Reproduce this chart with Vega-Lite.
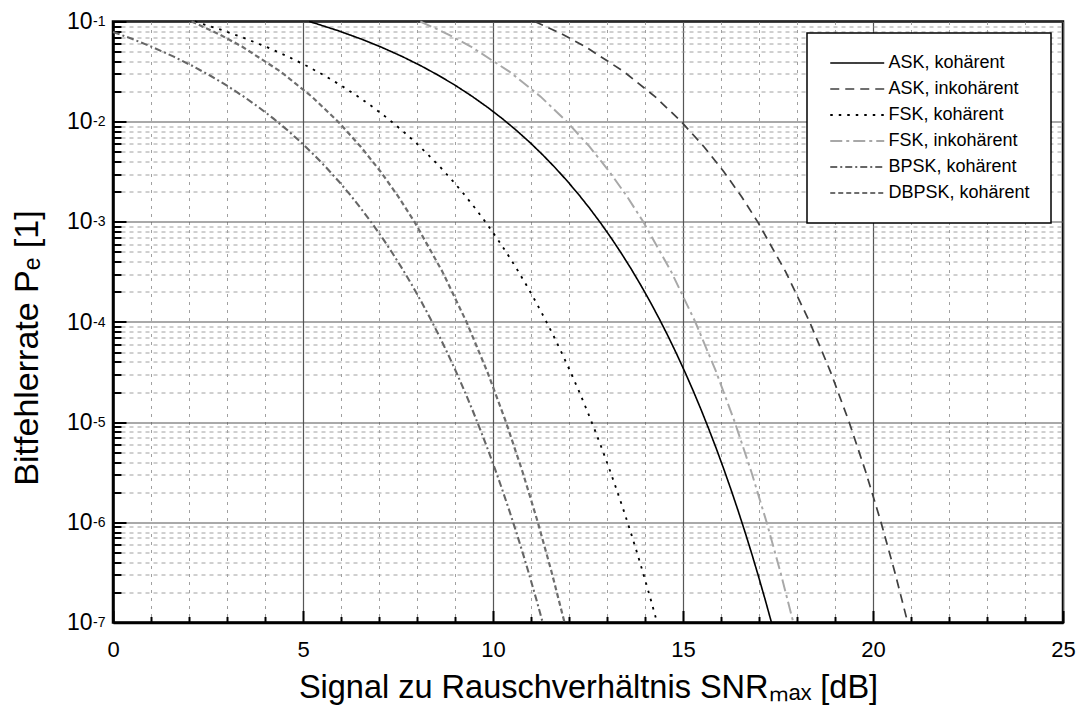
{
  "$schema": "https://vega.github.io/schema/vega-lite/v6.json",
  "width": 950,
  "height": 601,
  "autosize": {"type": "none"},
  "padding": {"left": 113, "top": 21.5, "right": 17, "bottom": 97.5},
  "background": "white",
  "config": {
    "font": "Liberation Sans",
    "view": {"stroke": "black", "strokeWidth": 2.5},
    "legend": {"strokeWidth": 1.5}
  },
  "datasets": {
    "curves": [
      {"s": "ASK, kohärent", "x": 5.165, "p": 0.1},
      {"s": "ASK, kohärent", "x": 5.289, "p": 0.0968},
      {"s": "ASK, kohärent", "x": 5.933, "p": 0.08076},
      {"s": "ASK, kohärent", "x": 6.532, "p": 0.06681},
      {"s": "ASK, kohärent", "x": 7.092, "p": 0.0548},
      {"s": "ASK, kohärent", "x": 7.619, "p": 0.04457},
      {"s": "ASK, kohärent", "x": 8.115, "p": 0.03593},
      {"s": "ASK, kohärent", "x": 8.585, "p": 0.02872},
      {"s": "ASK, kohärent", "x": 9.031, "p": 0.02275},
      {"s": "ASK, kohärent", "x": 9.454, "p": 0.01786},
      {"s": "ASK, kohärent", "x": 9.858, "p": 0.0139},
      {"s": "ASK, kohärent", "x": 10.245, "p": 0.01072},
      {"s": "ASK, kohärent", "x": 10.614, "p": 0.008198},
      {"s": "ASK, kohärent", "x": 10.969, "p": 0.00621},
      {"s": "ASK, kohärent", "x": 11.309, "p": 0.004661},
      {"s": "ASK, kohärent", "x": 11.637, "p": 0.003467},
      {"s": "ASK, kohärent", "x": 11.953, "p": 0.002555},
      {"s": "ASK, kohärent", "x": 12.258, "p": 0.001866},
      {"s": "ASK, kohärent", "x": 12.552, "p": 0.00135},
      {"s": "ASK, kohärent", "x": 12.837, "p": 0.0009676},
      {"s": "ASK, kohärent", "x": 13.113, "p": 0.0006871},
      {"s": "ASK, kohärent", "x": 13.38, "p": 0.0004834},
      {"s": "ASK, kohärent", "x": 13.64, "p": 0.0003369},
      {"s": "ASK, kohärent", "x": 13.891, "p": 0.0002326},
      {"s": "ASK, kohärent", "x": 14.136, "p": 0.0001591},
      {"s": "ASK, kohärent", "x": 14.374, "p": 0.0001078},
      {"s": "ASK, kohärent", "x": 14.606, "p": 7.235e-5},
      {"s": "ASK, kohärent", "x": 14.831, "p": 4.81e-5},
      {"s": "ASK, kohärent", "x": 15.051, "p": 3.167e-5},
      {"s": "ASK, kohärent", "x": 15.266, "p": 2.066e-5},
      {"s": "ASK, kohärent", "x": 15.475, "p": 1.335e-5},
      {"s": "ASK, kohärent", "x": 15.679, "p": 8.54e-6},
      {"s": "ASK, kohärent", "x": 15.879, "p": 5.413e-6},
      {"s": "ASK, kohärent", "x": 16.074, "p": 3.398e-6},
      {"s": "ASK, kohärent", "x": 16.265, "p": 2.112e-6},
      {"s": "ASK, kohärent", "x": 16.452, "p": 1.301e-6},
      {"s": "ASK, kohärent", "x": 16.635, "p": 7.933e-7},
      {"s": "ASK, kohärent", "x": 16.814, "p": 4.792e-7},
      {"s": "ASK, kohärent", "x": 16.989, "p": 2.867e-7},
      {"s": "ASK, kohärent", "x": 17.161, "p": 1.698e-7},
      {"s": "ASK, kohärent", "x": 17.328, "p": 1e-7},

      {"s": "FSK, kohärent", "x": 2.155, "p": 0.1},
      {"s": "FSK, kohärent", "x": 2.279, "p": 0.0968},
      {"s": "FSK, kohärent", "x": 2.923, "p": 0.08076},
      {"s": "FSK, kohärent", "x": 3.522, "p": 0.06681},
      {"s": "FSK, kohärent", "x": 4.082, "p": 0.0548},
      {"s": "FSK, kohärent", "x": 4.609, "p": 0.04457},
      {"s": "FSK, kohärent", "x": 5.105, "p": 0.03593},
      {"s": "FSK, kohärent", "x": 5.575, "p": 0.02872},
      {"s": "FSK, kohärent", "x": 6.021, "p": 0.02275},
      {"s": "FSK, kohärent", "x": 6.444, "p": 0.01786},
      {"s": "FSK, kohärent", "x": 6.848, "p": 0.0139},
      {"s": "FSK, kohärent", "x": 7.235, "p": 0.01072},
      {"s": "FSK, kohärent", "x": 7.604, "p": 0.008198},
      {"s": "FSK, kohärent", "x": 7.959, "p": 0.00621},
      {"s": "FSK, kohärent", "x": 8.299, "p": 0.004661},
      {"s": "FSK, kohärent", "x": 8.627, "p": 0.003467},
      {"s": "FSK, kohärent", "x": 8.943, "p": 0.002555},
      {"s": "FSK, kohärent", "x": 9.248, "p": 0.001866},
      {"s": "FSK, kohärent", "x": 9.542, "p": 0.00135},
      {"s": "FSK, kohärent", "x": 9.827, "p": 0.0009676},
      {"s": "FSK, kohärent", "x": 10.103, "p": 0.0006871},
      {"s": "FSK, kohärent", "x": 10.37, "p": 0.0004834},
      {"s": "FSK, kohärent", "x": 10.63, "p": 0.0003369},
      {"s": "FSK, kohärent", "x": 10.881, "p": 0.0002326},
      {"s": "FSK, kohärent", "x": 11.126, "p": 0.0001591},
      {"s": "FSK, kohärent", "x": 11.364, "p": 0.0001078},
      {"s": "FSK, kohärent", "x": 11.596, "p": 7.235e-5},
      {"s": "FSK, kohärent", "x": 11.821, "p": 4.81e-5},
      {"s": "FSK, kohärent", "x": 12.041, "p": 3.167e-5},
      {"s": "FSK, kohärent", "x": 12.256, "p": 2.066e-5},
      {"s": "FSK, kohärent", "x": 12.465, "p": 1.335e-5},
      {"s": "FSK, kohärent", "x": 12.669, "p": 8.54e-6},
      {"s": "FSK, kohärent", "x": 12.869, "p": 5.413e-6},
      {"s": "FSK, kohärent", "x": 13.064, "p": 3.398e-6},
      {"s": "FSK, kohärent", "x": 13.255, "p": 2.112e-6},
      {"s": "FSK, kohärent", "x": 13.442, "p": 1.301e-6},
      {"s": "FSK, kohärent", "x": 13.625, "p": 7.933e-7},
      {"s": "FSK, kohärent", "x": 13.804, "p": 4.792e-7},
      {"s": "FSK, kohärent", "x": 13.979, "p": 2.867e-7},
      {"s": "FSK, kohärent", "x": 14.151, "p": 1.698e-7},
      {"s": "FSK, kohärent", "x": 14.318, "p": 1e-7},

      {"s": "BPSK, kohärent", "x": 0, "p": 0.07865},
      {"s": "BPSK, kohärent", "x": 0.512, "p": 0.06681},
      {"s": "BPSK, kohärent", "x": 1.072, "p": 0.0548},
      {"s": "BPSK, kohärent", "x": 1.599, "p": 0.04457},
      {"s": "BPSK, kohärent", "x": 2.095, "p": 0.03593},
      {"s": "BPSK, kohärent", "x": 2.565, "p": 0.02872},
      {"s": "BPSK, kohärent", "x": 3.011, "p": 0.02275},
      {"s": "BPSK, kohärent", "x": 3.434, "p": 0.01786},
      {"s": "BPSK, kohärent", "x": 3.838, "p": 0.0139},
      {"s": "BPSK, kohärent", "x": 4.225, "p": 0.01072},
      {"s": "BPSK, kohärent", "x": 4.594, "p": 0.008198},
      {"s": "BPSK, kohärent", "x": 4.949, "p": 0.00621},
      {"s": "BPSK, kohärent", "x": 5.289, "p": 0.004661},
      {"s": "BPSK, kohärent", "x": 5.617, "p": 0.003467},
      {"s": "BPSK, kohärent", "x": 5.933, "p": 0.002555},
      {"s": "BPSK, kohärent", "x": 6.238, "p": 0.001866},
      {"s": "BPSK, kohärent", "x": 6.532, "p": 0.00135},
      {"s": "BPSK, kohärent", "x": 6.817, "p": 0.0009676},
      {"s": "BPSK, kohärent", "x": 7.093, "p": 0.0006871},
      {"s": "BPSK, kohärent", "x": 7.36, "p": 0.0004834},
      {"s": "BPSK, kohärent", "x": 7.62, "p": 0.0003369},
      {"s": "BPSK, kohärent", "x": 7.871, "p": 0.0002326},
      {"s": "BPSK, kohärent", "x": 8.116, "p": 0.0001591},
      {"s": "BPSK, kohärent", "x": 8.354, "p": 0.0001078},
      {"s": "BPSK, kohärent", "x": 8.586, "p": 7.235e-5},
      {"s": "BPSK, kohärent", "x": 8.811, "p": 4.81e-5},
      {"s": "BPSK, kohärent", "x": 9.031, "p": 3.167e-5},
      {"s": "BPSK, kohärent", "x": 9.246, "p": 2.066e-5},
      {"s": "BPSK, kohärent", "x": 9.455, "p": 1.335e-5},
      {"s": "BPSK, kohärent", "x": 9.659, "p": 8.54e-6},
      {"s": "BPSK, kohärent", "x": 9.859, "p": 5.413e-6},
      {"s": "BPSK, kohärent", "x": 10.054, "p": 3.398e-6},
      {"s": "BPSK, kohärent", "x": 10.245, "p": 2.112e-6},
      {"s": "BPSK, kohärent", "x": 10.432, "p": 1.301e-6},
      {"s": "BPSK, kohärent", "x": 10.615, "p": 7.933e-7},
      {"s": "BPSK, kohärent", "x": 10.794, "p": 4.792e-7},
      {"s": "BPSK, kohärent", "x": 10.969, "p": 2.867e-7},
      {"s": "BPSK, kohärent", "x": 11.141, "p": 1.698e-7},
      {"s": "BPSK, kohärent", "x": 11.308, "p": 1e-7},

      {"s": "DBPSK, kohärent", "x": 2.067, "p": 0.1},
      {"s": "DBPSK, kohärent", "x": 2.781, "p": 0.07499},
      {"s": "DBPSK, kohärent", "x": 3.395, "p": 0.05623},
      {"s": "DBPSK, kohärent", "x": 4.41, "p": 0.03162},
      {"s": "DBPSK, kohärent", "x": 5.233, "p": 0.01778},
      {"s": "DBPSK, kohärent", "x": 5.924, "p": 0.01},
      {"s": "DBPSK, kohärent", "x": 6.52, "p": 0.005623},
      {"s": "DBPSK, kohärent", "x": 7.044, "p": 0.003162},
      {"s": "DBPSK, kohärent", "x": 7.512, "p": 0.001778},
      {"s": "DBPSK, kohärent", "x": 7.934, "p": 0.001},
      {"s": "DBPSK, kohärent", "x": 8.672, "p": 0.0003162},
      {"s": "DBPSK, kohärent", "x": 9.303, "p": 0.0001},
      {"s": "DBPSK, kohärent", "x": 9.854, "p": 3.162e-5},
      {"s": "DBPSK, kohärent", "x": 10.342, "p": 1e-5},
      {"s": "DBPSK, kohärent", "x": 10.781, "p": 3.162e-6},
      {"s": "DBPSK, kohärent", "x": 11.18, "p": 1e-6},
      {"s": "DBPSK, kohärent", "x": 11.545, "p": 3.162e-7},
      {"s": "DBPSK, kohärent", "x": 11.882, "p": 1e-7},

      {"s": "FSK, inkohärent", "x": 8.088, "p": 0.1},
      {"s": "FSK, inkohärent", "x": 8.802, "p": 0.07499},
      {"s": "FSK, inkohärent", "x": 9.416, "p": 0.05623},
      {"s": "FSK, inkohärent", "x": 10.431, "p": 0.03162},
      {"s": "FSK, inkohärent", "x": 11.254, "p": 0.01778},
      {"s": "FSK, inkohärent", "x": 11.945, "p": 0.01},
      {"s": "FSK, inkohärent", "x": 12.541, "p": 0.005623},
      {"s": "FSK, inkohärent", "x": 13.065, "p": 0.003162},
      {"s": "FSK, inkohärent", "x": 13.533, "p": 0.001778},
      {"s": "FSK, inkohärent", "x": 13.955, "p": 0.001},
      {"s": "FSK, inkohärent", "x": 14.693, "p": 0.0003162},
      {"s": "FSK, inkohärent", "x": 15.324, "p": 0.0001},
      {"s": "FSK, inkohärent", "x": 15.875, "p": 3.162e-5},
      {"s": "FSK, inkohärent", "x": 16.363, "p": 1e-5},
      {"s": "FSK, inkohärent", "x": 16.802, "p": 3.162e-6},
      {"s": "FSK, inkohärent", "x": 17.201, "p": 1e-6},
      {"s": "FSK, inkohärent", "x": 17.566, "p": 3.162e-7},
      {"s": "FSK, inkohärent", "x": 17.903, "p": 1e-7},

      {"s": "ASK, inkohärent", "x": 11.098, "p": 0.1},
      {"s": "ASK, inkohärent", "x": 11.812, "p": 0.07499},
      {"s": "ASK, inkohärent", "x": 12.426, "p": 0.05623},
      {"s": "ASK, inkohärent", "x": 13.441, "p": 0.03162},
      {"s": "ASK, inkohärent", "x": 14.264, "p": 0.01778},
      {"s": "ASK, inkohärent", "x": 14.955, "p": 0.01},
      {"s": "ASK, inkohärent", "x": 15.551, "p": 0.005623},
      {"s": "ASK, inkohärent", "x": 16.075, "p": 0.003162},
      {"s": "ASK, inkohärent", "x": 16.543, "p": 0.001778},
      {"s": "ASK, inkohärent", "x": 16.965, "p": 0.001},
      {"s": "ASK, inkohärent", "x": 17.703, "p": 0.0003162},
      {"s": "ASK, inkohärent", "x": 18.334, "p": 0.0001},
      {"s": "ASK, inkohärent", "x": 18.885, "p": 3.162e-5},
      {"s": "ASK, inkohärent", "x": 19.373, "p": 1e-5},
      {"s": "ASK, inkohärent", "x": 19.812, "p": 3.162e-6},
      {"s": "ASK, inkohärent", "x": 20.211, "p": 1e-6},
      {"s": "ASK, inkohärent", "x": 20.576, "p": 3.162e-7},
      {"s": "ASK, inkohärent", "x": 20.913, "p": 1e-7}
    ]
  },
  "data": {"name": "curves"},
  "resolve": {"axis": {"x": "independent", "y": "independent"}},
  "layer": [
    {
      "mark": {"type": "point", "opacity": 0, "size": 0},
      "encoding": {
        "x": {
          "field": "x", "type": "quantitative",
          "scale": {"domain": [0, 25], "nice": false, "zero": false},
          "axis": {
            "orient": "bottom",
            "values": [1, 2, 3, 4, 6, 7, 8, 9, 11, 12, 13, 14, 16, 17, 18, 19, 21, 22, 23, 24],
            "labels": false, "domain": false, "title": null,
            "tickSize": -6, "tickWidth": 2, "tickColor": "black",
            "grid": true, "gridColor": "#a0a0a0", "gridDash": [3, 5], "gridWidth": 1
          }
        },
        "y": {
          "field": "p", "type": "quantitative",
          "scale": {"type": "log", "domain": [1e-7, 0.1], "nice": false},
          "axis": {
            "orient": "left",
            "values": [2e-7, 3e-7, 4e-7, 5e-7, 6e-7, 7e-7, 8e-7, 9e-7,
                       2e-6, 3e-6, 4e-6, 5e-6, 6e-6, 7e-6, 8e-6, 9e-6,
                       2e-5, 3e-5, 4e-5, 5e-5, 6e-5, 7e-5, 8e-5, 9e-5,
                       0.0002, 0.0003, 0.0004, 0.0005, 0.0006, 0.0007, 0.0008, 0.0009,
                       0.002, 0.003, 0.004, 0.005, 0.006, 0.007, 0.008, 0.009,
                       0.02, 0.03, 0.04, 0.05, 0.06, 0.07, 0.08, 0.09],
            "labels": false, "domain": false, "title": null,
            "tickSize": -8, "tickWidth": 2, "tickColor": "black",
            "grid": true, "gridColor": "#a0a0a0", "gridDash": [4, 4], "gridWidth": 1
          }
        }
      }
    },
    {
      "mark": {"type": "point", "opacity": 0, "size": 0},
      "encoding": {
        "x": {"field": "x", "type": "quantitative", "scale": {"domain": [0, 25], "nice": false, "zero": false}, "axis": null},
        "y": {
          "field": "p", "type": "quantitative",
          "scale": {"type": "log", "domain": [1e-7, 0.1], "nice": false},
          "axis": {
            "orient": "left",
            "values": [1e-7, 1e-6, 1e-5, 0.0001, 0.001, 0.01, 0.1],
            "labelExpr": "'-' + round(-log(datum.value) / LN10)",
            "labelFontSize": 14, "labelColor": "black", "labelPadding": 8, "labelDy": -4,
            "labelAlign": "right", "labelBaseline": "middle",
            "ticks": false, "domain": false, "grid": false, "title": null
          }
        }
      }
    },
    {
      "mark": {"type": "line"},
      "encoding": {
        "x": {
          "field": "x", "type": "quantitative",
          "scale": {"domain": [0, 25], "nice": false, "zero": false},
          "axis": {
            "orient": "bottom",
            "values": [0, 5, 10, 15, 20, 25], "format": "d",
            "title": "Signal zu Rauschverhältnis SNRₘₐₓ [dB]",
            "titleFontSize": 32.5, "titleFontWeight": "normal", "titleColor": "black", "titlePadding": 11,
            "labelFontSize": 22, "labelColor": "black", "labelPadding": 29, "labelFlush": false,
            "tickSize": -12, "tickWidth": 2, "tickColor": "black",
            "domain": true, "domainColor": "black", "domainWidth": 2.5,
            "grid": true, "gridColor": "#555555", "gridWidth": 1.2
          }
        },
        "y": {
          "field": "p", "type": "quantitative",
          "scale": {"type": "log", "domain": [1e-7, 0.1], "nice": false},
          "axis": {
            "orient": "left",
            "values": [1e-7, 1e-6, 1e-5, 0.0001, 0.001, 0.01, 0.1],
            "labelExpr": "'10'",
            "title": "Bitfehlerrate Pₑ [1]",
            "titleFontSize": 34, "titleFontWeight": "normal", "titleColor": "black", "titlePadding": 22,
            "titleY": 326,
            "labelFontSize": 23, "labelColor": "black", "labelPadding": 34, "labelDy": 5,
            "labelAlign": "right", "labelBaseline": "middle",
            "tickSize": -13, "tickWidth": 2, "tickColor": "black",
            "domain": true, "domainColor": "black", "domainWidth": 2.5,
            "grid": true, "gridColor": "#555555", "gridWidth": 1.2
          }
        },
        "color": {
          "field": "s", "type": "nominal",
          "scale": {
            "domain": ["ASK, kohärent", "ASK, inkohärent", "FSK, kohärent", "FSK, inkohärent", "BPSK, kohärent", "DBPSK, kohärent"],
            "range": ["#000000", "#404040", "#000000", "#a8a8a8", "#666666", "#6e6e6e"]
          },
          "legend": {
            "title": null, "orient": "none", "legendX": 694, "legendY": 11.5,
            "symbolType": "M-1,0H7", "symbolSize": 182,
            "labelFontSize": 18, "labelColor": "black", "labelOffset": 42.5,
            "padding": 21, "rowPadding": 8,
            "fillColor": "white", "strokeColor": "black"
          }
        },
        "strokeDash": {
          "field": "s", "type": "nominal",
          "scale": {
            "domain": ["ASK, kohärent", "ASK, inkohärent", "FSK, kohärent", "FSK, inkohärent", "BPSK, kohärent", "DBPSK, kohärent"],
            "range": [[1, 0], [9, 6], [2.5, 6], [12, 4, 3, 4], [7, 3, 2, 3], [5, 3]]
          },
          "legend": {
            "title": null, "orient": "none", "legendX": 694, "legendY": 11.5,
            "symbolType": "M-1,0H7", "symbolSize": 182,
            "labelFontSize": 18, "labelColor": "black", "labelOffset": 42.5,
            "padding": 21, "rowPadding": 8,
            "fillColor": "white", "strokeColor": "black"
          }
        },
        "strokeWidth": {
          "field": "s", "type": "nominal",
          "scale": {
            "domain": ["ASK, kohärent", "ASK, inkohärent", "FSK, kohärent", "FSK, inkohärent", "BPSK, kohärent", "DBPSK, kohärent"],
            "range": [1.6, 2.2, 2.5, 2.2, 2.2, 2.2]
          },
          "legend": {
            "title": null, "orient": "none", "legendX": 694, "legendY": 11.5,
            "symbolType": "M-1,0H7", "symbolSize": 182,
            "labelFontSize": 18, "labelColor": "black", "labelOffset": 42.5,
            "padding": 21, "rowPadding": 8,
            "fillColor": "white", "strokeColor": "black"
          }
        }
      }
    }
  ]
}
